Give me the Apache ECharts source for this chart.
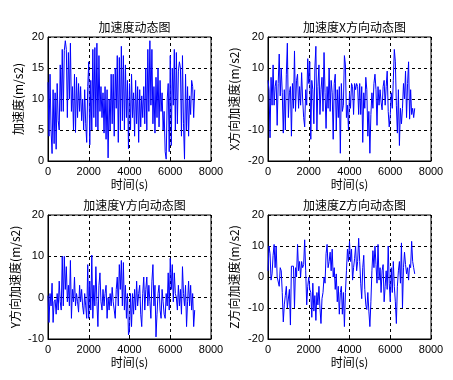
<!DOCTYPE html>
<html>
<head>
<meta charset="utf-8">
<script src="https://cdn.jsdelivr.net/npm/echarts@6/dist/echarts.min.js"></script>
<style>html,body{margin:0;padding:0;background:#fff;}#c{width:453px;height:380px;}</style>
</head>
<body>
<div id="c"></div>
<script>
// sample interval (s)
var STEP = 50;
var titles = ['加速度动态图', '加速度X方向动态图', '加速度Y方向动态图', '加速度Z方向动态图'];
var yNames = ['加速度(m/s2)', 'X方向加速度(m/s2)', 'Y方向加速度(m/s2)', 'Z方向加速度(m/s2)'];
var xName = '时间(s)';
var xTicks = [0, 2000, 4000, 6000, 8000];
var yRanges = [[0, 20, 5], [-20, 20, 10], [-10, 20, 10], [-20, 20, 10]];

var accTotal = [
 12.7, 4, 14, 5, 1.2, 11.5, 2.8, 11, 1.9, 12.5,
 6.5, 5, 15.5, 8, 18, 8, 17.8, 19.4, 18, 7,
 17.5, 10, 19, 8, 12, 5, 14, 4.6, 13.5, 7,
 12.5, 8, 12, 6.5, 10, 5, 11.5, 6, 3, 12,
 16, 2.6, 13, 5, 18, 7, 18.3, 5.5, 19, 5,
 17, 8, 12, 7, 11, 4.5, 12, 3.5, 11.5, 0.5,
 10, 5, 14, 6, 14, 4, 15, 8.5, 17, 3,
 16.7, 5, 18.5, 6.5, 17, 5, 15.5, 7, 13, 2,
 12.5, 5, 14, 7, 11, 4, 13, 6, 12, 3,
 11.5, 5.5, 10.5, 7, 12, 6, 15, 5, 18, 8,
 19.4, 9, 18, 6, 12, 4.5, 13.5, 7, 15, 5.5,
 13, 8, 11, 5, 8, 1.5, 0.3, 10, 12.5, 1.5,
 17, 2.5, 15, 9, 18, 5, 17.5, 6, 14.5, 16,
 15, 4, 17, 6, 0.3, 14, 5, 12, 4, 10.5,
 7.5, 13, 12, 7, 11.5
];
var accX = [
 6, 3, -12.5, 7, -2, 11, -2, 4, 6, -8.5,
 5, 14.5, 1, 10, 2, -11, 3, -10, 8, 18,
 -6, 2, 4, -12, 5, -3, 15.5, -4, 6, 8,
 -3, 4, -2, 8.5, 0, -6, -9, 3, -2, 13,
 5, 12, -13, 6, 3, -8, 10, 17, -10, 4,
 11, -5, 3, 7, -4, 15, 2, -9.5, 4, -3,
 10, -4, 6, 2, -13, 5, 8, -10, 3, -6,
 4, -17.5, 5, -4, -2, 14, 11, -6, -2, -10,
 2, -3, 5, 4, -5, 5, 3, 5, 4, -5,
 5, -5, 4, -14, 2, -3, 7, 3, -12, -4,
 -17.5, -5, 2, -3, 5, 8, 3, -8.5, 4, -2,
 3, -1, -3.5, 4, 6, -2, 4, 9, -4, -9,
 -5, 2, -3, 6, 16, 12, -2, -11, 3, -15,
 -3, -8, -3, 5, 0, 9, -6, 5, 12, -6.5,
 3, -5, -3, -6, -3
];
var accY = [
 0.5, -6, 1, -2, 3.5, -6, -1, -0.5, -4, 1,
 -3, 4, -1, -3, 10, -2, 10, 2, 7.5, -1,
 3, -2, 9, -5, 2, -1, 5, -2, 1, -1,
 -3.5, 3, -1, 2, -2, -4, 1, -2, -5, 8,
 -5, 4, -3, 10.3, -5, 3, -2, 7.5, -1, -7,
 3, 6, -1, -3, 2, -2, 1, 3, -5, 0,
 -3, 1, -2, 2.5, -1, -3, -5, 2, 5, -2,
 8, 2, 9, -2, 8.5, -3, 3, -5, 1, -9,
 -8, 1, -7, 1, -4, 2, -3, 4, -2, 1,
 3, -4, -7, 1, 5, -3, 2, 5, -2, 3,
 -1, -5, 4, 8, -2, 3, -9.5, -4, 1, 3,
 -3, -5, 2, -1, -4, -5, 1, -2, 6, -3,
 9.5, 2, 8, -1, 6, 1, 0, -3, 3, -2,
 2, -4, 7.5, 1, -2, 3, -7, -1, 4, -2,
 3, -3, 1, -7, -3
];
var accZ = [
 2, 10, 7.5, -1, 1, 7, 10.5, 3, 10, 0,
 0, -3, 3, 2, -5, -14.5, -9, -6, -3, -10,
 -10, -4, -15.5, 3.5, 3, 3.5, -10, 3, 0, 10.5,
 2, 5, 0, 5, 3, 4, 12, 2, -9, -3,
 0, -4, -5, -13, -2, -11, -6, -14, -5, -9,
 -3, -10, -15, -7, -5, 0, -2, 7.5, 10.5, 3,
 5, 8, 2, 9, 0, 3, -4, 1, -8, -3,
 -12, -5, -3, -12, -5, -16, -5, 2, 9, 5,
 11.5, 5, 9, -1, 3, 6, 10, 2, 5, 12.5,
 5, -2, -7, 3, 7, -4, -9, -10.5, -5, -11,
 -16, -8, 2, 8.5, 3, 10, 4, -2, 10.5, -1,
 3, -5, 2, 4, -8, -3, 2, -4, 10, -2,
 -8, 3, -5, 5, -3, -8, -15, -3, 2, 5,
 -2, 11, -10, 3, 8, 4, 1, 3, -1, 4,
 3, 11.5, 5, 3, 1
];
var allData = [accTotal, accX, accY, accZ];

var grids = [
  {left: 48, top: 37, width: 163, height: 124},
  {left: 268, top: 37, width: 163, height: 124},
  {left: 48, top: 215, width: 163, height: 124},
  {left: 268, top: 215, width: 163, height: 124}
];
var nameGaps = [24, 28, 27, 28];
var FONT = '"Liberation Sans", "Noto Sans CJK SC", sans-serif';
var CJK = '"Noto Sans CJK SC", "Liberation Sans", sans-serif';

var option = {
  animation: false,
  backgroundColor: '#fff',
  title: [], grid: [], xAxis: [], yAxis: [], series: []
};
for (var i = 0; i < 4; i++) {
  var g = grids[i];
  option.grid.push({left: g.left, top: g.top, width: g.width, height: g.height,
    show: true, borderColor: '#000', borderWidth: 1, backgroundColor: '#fff', containLabel: false});
  option.title.push({text: titles[i], left: g.left + g.width / 2, top: g.top - 21, textAlign: 'center',
    textStyle: {fontFamily: CJK, fontSize: 12, fontWeight: 'normal', color: '#000'}});
  option.xAxis.push({type: 'value', gridIndex: i, min: xTicks[0], max: xTicks[xTicks.length - 1], interval: 2000,
    name: xName, nameLocation: 'middle', nameGap: 17,
    nameTextStyle: {fontFamily: CJK, fontSize: 12, color: '#000'},
    axisLine: {show: true, onZero: false, lineStyle: {color: '#000', width: 1}},
    axisTick: {show: true, inside: true, length: 3, lineStyle: {color: '#000'}},
    axisLabel: {fontFamily: FONT, fontSize: 11, color: '#000', margin: 5,
      formatter: function (v) { return String(v); }},
    splitLine: {show: true, lineStyle: {color: '#000', type: [3, 3], width: 1}}});
  var r = yRanges[i];
  option.yAxis.push({type: 'value', gridIndex: i, min: r[0], max: r[1], interval: r[2],
    name: yNames[i], nameLocation: 'middle', nameGap: nameGaps[i], nameRotate: 90,
    nameTextStyle: {fontFamily: CJK, fontSize: 12, color: '#000'},
    axisLine: {show: true, onZero: false, lineStyle: {color: '#000', width: 1}},
    axisTick: {show: true, inside: true, length: 3, lineStyle: {color: '#000'}},
    axisLabel: {fontFamily: FONT, fontSize: 11, color: '#000', margin: 4,
      formatter: function (v) { return String(v); }},
    splitLine: {show: true, lineStyle: {color: '#000', type: [3, 3], width: 1}}});
  var d = allData[i].map(function (v, k) { return [k * STEP, v]; });
  option.series.push({type: 'line', xAxisIndex: i, yAxisIndex: i, data: d, symbol: 'none',
    lineStyle: {color: '#0000ff', width: 1}, silent: true, z: 3});
}
var chart = echarts.init(document.getElementById('c'), null, {renderer: 'canvas'});
chart.setOption(option);
</script>
</body>
</html>
